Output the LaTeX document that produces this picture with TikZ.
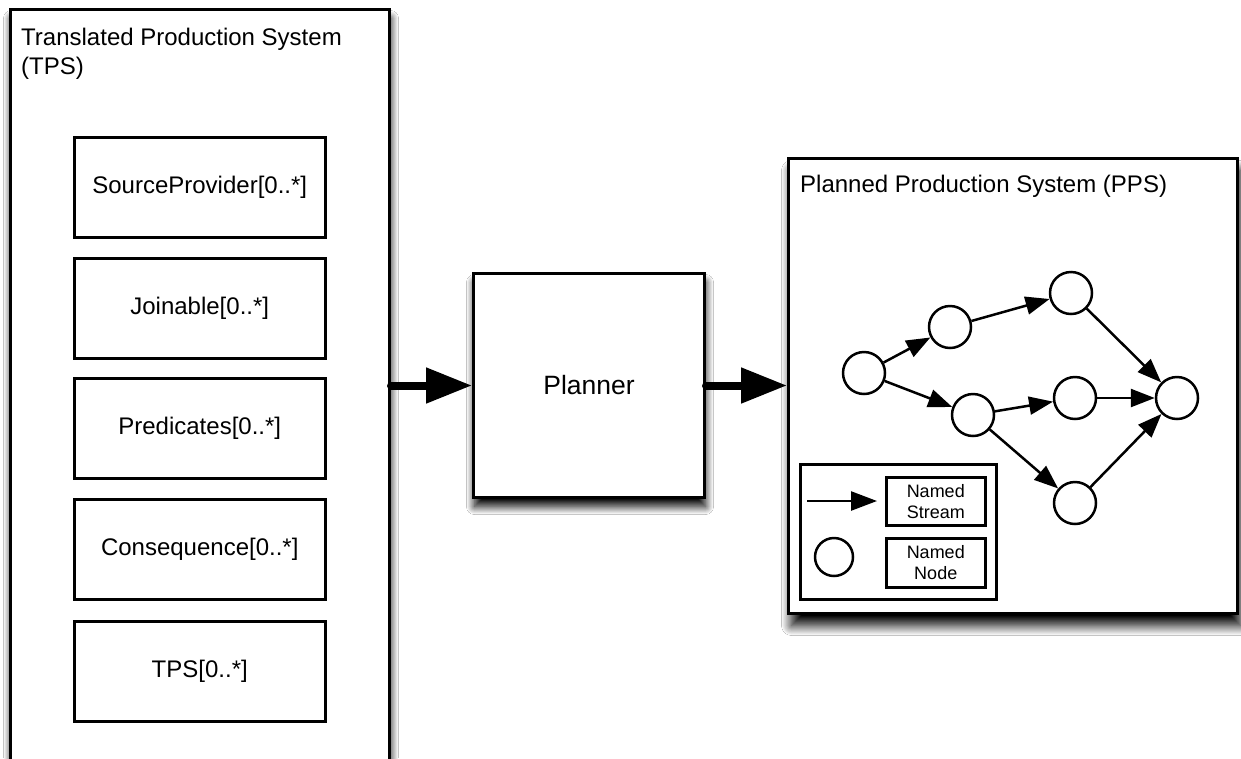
\documentclass[tikz,border=0pt]{standalone}
\usepackage{fontspec}
\setmainfont{Liberation Sans}
\usetikzlibrary{arrows.meta,shadows.blur}

\begin{document}
\begin{tikzpicture}[x=1pt,y=-1pt,
  every node/.style={font=\fontsize{24}{29}\selectfont},
  frame/.style={draw, line width=3pt, fill=white, inner sep=0pt, anchor=north west},
  soft/.style={blur shadow={shadow xshift=1pt, shadow yshift=-9pt,
      shadow blur radius=8pt, shadow blur steps=16, shadow opacity=100}},
  softwide/.style={blur shadow={shadow xshift=3pt, shadow yshift=-12pt,
      shadow blur radius=10pt, shadow blur steps=18, shadow opacity=100}},
  part/.style={draw, line width=2.5pt, fill=white, minimum width=251pt,
      minimum height=100pt, inner sep=0pt, anchor=north west},
  vertex/.style={circle, draw, line width=2.5pt, fill=white,
      minimum size=42pt, inner sep=0pt},
  stream/.style={line width=2.5pt, -{Triangle[length=24pt,width=18pt]}},
  bigarrow/.style={line width=8pt, line cap=round,
      -{Triangle[length=46pt,width=34pt]}},
  keybox/.style={draw, line width=2.5pt, minimum width=99pt, minimum height=48pt,
      inner sep=0pt, align=center, anchor=north west,
      font=\fontsize{18}{21}\selectfont}
]
\useasboundingbox (0,0) rectangle (1241,758);
\clip (0,0) rectangle (1241,758);
\fill[white] (0,0) rectangle (1241,758);

% Translated Production System, running past the lower edge
\node[frame, soft, minimum width=379pt, minimum height=800pt] (tps) at (9,8) {};
\node[anchor=north west, inner sep=0pt, align=left] (tpstitle) at (21,28)
  {Translated Production System\\(TPS)};
\node[part] (src)  at (73,136) {SourceProvider[0..*]};
\node[part] (join) at (73,257) {Joinable[0..*]};
\node[part] (pred) at (73,377) {Predicates[0..*]};
\node[part] (cons) at (73,498) {Consequence[0..*]};
\node[part] (sub)  at (73,620) {TPS[0..*]};

% Planner
\node[frame, soft, minimum width=231pt, minimum height=224pt,
      font=\fontsize{26.5}{30}\selectfont] (planner) at (472,272) {Planner};

% Planned Production System
\node[frame, softwide, minimum width=449pt, minimum height=455pt] (pps) at (787,157) {};
\node[anchor=base west, inner sep=0pt] (ppstitle) at (800,192)
  {Planned Production System (PPS)};

% flow between the three stages
\draw[bigarrow] (tps.east |- planner.west) -- (planner.west);
\draw[bigarrow] (planner.east) -- (planner.east -| pps.west);

% stream graph
\node[vertex] (a) at (864,373) {};
\node[vertex] (b) at (950,327) {};
\node[vertex] (c) at (1071,293) {};
\node[vertex] (d) at (973,415) {};
\node[vertex] (e) at (1075,398) {};
\node[vertex] (f) at (1177,398) {};
\node[vertex] (g) at (1075,503) {};
\draw[stream] (a) -- (b);
\draw[stream] (b) -- (c);
\draw[stream] (a) -- (d);
\draw[stream] (d) -- (e);
\draw[stream] (d) -- (g);
\draw[stream] (c) -- (f);
\draw[stream] (e) -- (f);
\draw[stream] (g) -- (f);

% legend
\node[draw, line width=2.5pt, minimum width=196pt, minimum height=135pt,
      anchor=north west, inner sep=0pt] (legend) at (799,463) {};
\coordinate (kfrom) at (807,501);
\coordinate (kto) at (877,501);
\draw[line width=2.5pt, -{Triangle[length=26pt,width=19pt]}] (kfrom) -- (kto);
\node[keybox] (kstream) at (885,476) {Named\\Stream};
\node[vertex, minimum size=38pt] (kcircle) at (834,557) {};
\node[keybox, minimum height=49pt] (knode) at (885,537) {Named\\Node};
\end{tikzpicture}
\end{document}
